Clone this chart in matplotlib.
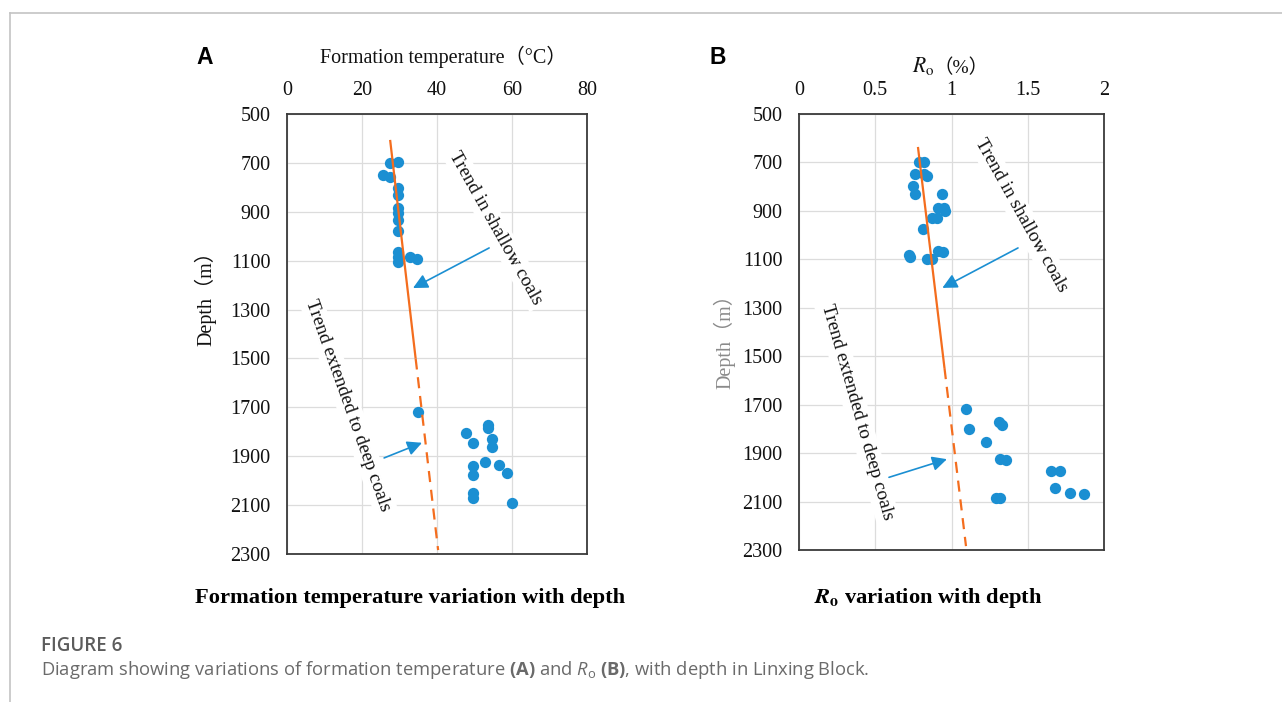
import matplotlib
matplotlib.use("Agg")
import matplotlib.pyplot as plt
from matplotlib.lines import Line2D

plt.rcParams['mathtext.fontset'] = 'custom'
plt.rcParams['mathtext.rm'] = 'Open Sans'
plt.rcParams['mathtext.it'] = 'Open Sans:italic'
plt.rcParams['mathtext.bf'] = 'Open Sans:bold'

W, H = 1282, 702

# ---------------- data ----------------
temp_c = [27.5, 29.6, 25.6, 27.5, 29.6, 29.6, 29.6, 29.6, 29.6, 29.6, 29.6, 29.6, 29.6,
          32.8, 34.7, 34.9, 47.7, 53.6, 53.6, 49.7, 54.7, 54.7, 52.8, 49.7, 49.7, 56.5,
          58.7, 49.7, 49.7, 60.0]
temp_depth = [700, 696, 750, 758, 803, 831, 885, 905, 934, 979, 1064, 1085, 1105,
              1085, 1093, 1719, 1805, 1772, 1785, 1846, 1830, 1862, 1923, 1940, 1977, 1936,
              1969, 2051, 2071, 2092]

ro_pct = [0.79, 0.82, 0.76, 0.82, 0.84, 0.75, 0.76, 0.94, 0.91, 0.95, 0.96, 0.87, 0.905,
          0.81, 0.72, 0.73, 0.84, 0.87, 0.91, 0.945, 1.095, 1.115, 1.31, 1.33, 1.226, 1.32,
          1.36, 1.65, 1.71, 1.68, 1.78, 1.87, 1.29, 1.32]
ro_depth = [698, 698, 746, 748, 758, 797, 830, 830, 888, 888, 900, 930, 930,
            975, 1082, 1090, 1099, 1099, 1066, 1070, 1718, 1800, 1772, 1784, 1854, 1924,
            1928, 1974, 1974, 2044, 2065, 2069, 2085, 2085]

# trend lines: (x, depth) for start, end of solid part, end of dashed part
temp_trend_x = [27.5, 34.3, 40.3]
temp_trend_d = [606, 1500, 2284]
ro_trend_x = [0.78, 0.954, 1.095]
ro_trend_d = [636, 1549, 2284]

depth_ticks = [500, 700, 900, 1100, 1300, 1500, 1700, 1900, 2100, 2300]
temp_ticks = [0, 20, 40, 60, 80]
ro_ticks = [0, 0.5, 1, 1.5, 2]
ro_ticklabels = ['0', '0.5', '1', '1.5', '2']

# ---------------- style ----------------
BLUE = '#1b8fd2'
ORANGE = '#f46d1e'
SERIF = ['Liberation Serif', 'Noto Sans CJK SC']
SPINE = '#3a3a3a'
GRID = '#dcdcdc'
TICKFS = 14.5

fig = plt.figure(figsize=(W / 100, H / 100), dpi=100)
fig.patch.set_facecolor('white')


def fx(x):
    return x / W


def fy(y):
    return 1 - y / H


def make_ax(left, right, top, bottom, xlim, xticks, xticklabels):
    ax = fig.add_axes([fx(left), fy(bottom), fx(right) - fx(left), fy(top) - fy(bottom)])
    ax.set_xlim(*xlim)
    ax.set_ylim(2300, 500)
    ax.set_yticks(depth_ticks)
    ax.set_yticklabels([str(t) for t in depth_ticks], fontsize=TICKFS, family='Liberation Serif')
    ax.set_xticks(xticks)
    ax.set_xticklabels(xticklabels, fontsize=TICKFS, family='Liberation Serif')
    ax.xaxis.tick_top()
    ax.tick_params(axis='both', length=0, colors='#111111')
    ax.tick_params(axis='x', pad=10)
    ax.tick_params(axis='y', pad=12)
    ax.grid(True, color=GRID, lw=0.9)
    ax.set_axisbelow(True)
    for s in ax.spines.values():
        s.set_color(SPINE)
        s.set_linewidth(1.3)
    return ax


axA = make_ax(287, 587, 114, 554, (0, 80), temp_ticks, [str(t) for t in temp_ticks])
axB = make_ax(799, 1104, 114, 550, (0, 2), ro_ticks, ro_ticklabels)


def draw_panel(ax, xs, ds, tx, td, shallow_txt, deep_txt, arr_sh, arr_dp):
    ax.scatter(xs, ds, s=66, color=BLUE, zorder=3, linewidths=0)
    ax.plot(tx[:2], td[:2], color=ORANGE, lw=1.6, zorder=4, solid_capstyle='butt')
    ax.plot(tx[1:], td[1:], color=ORANGE, lw=1.6, ls=(0, (5, 3.5)), zorder=4)
    for (x, y, rot), s in [(shallow_txt, 'Trend in shallow coals'),
                           (deep_txt, 'Trend extended to deep coals')]:
        ax.text(x, y, s, rotation=rot, rotation_mode='anchor', ha='center', va='center',
                fontsize=13.8, family='Liberation Serif', color='#111111', zorder=5,
                clip_on=False, bbox=dict(fc='white', ec='none', pad=2.5))
    for (x0, y0, x1, y1) in (arr_sh, arr_dp):
        ax.annotate('', xy=(x1, y1), xytext=(x0, y0), zorder=6,
                    arrowprops=dict(arrowstyle='-|>', color=BLUE, lw=1.2,
                                    mutation_scale=22, shrinkA=0, shrinkB=0))


draw_panel(axA, temp_c, temp_depth, temp_trend_x, temp_trend_d,
           (55.7, 966, -60.6), (16.3, 1691, -70.3),
           (53.9, 1048, 33.6, 1212), (25.9, 1907, 36.0, 1845))
draw_panel(axB, ro_pct, ro_depth, ro_trend_x, ro_trend_d,
           (1.456, 917, -60.8), (0.38, 1730, -73.9),
           (1.436, 1053, 0.94, 1218), (0.59, 2000, 0.97, 1925))

# ---------------- labels ----------------
fig.text(fx(205), fy(57), 'A', fontsize=16.5, fontweight='bold', family='Liberation Sans',
         ha='center', va='center')
fig.text(fx(718), fy(57), 'B', fontsize=16.5, fontweight='bold', family='Liberation Sans',
         ha='center', va='center')

fig.text(fx(443), fy(57), 'Formation temperature（°C）', fontsize=14.5, family=SERIF,
         ha='center', va='center', color='#111111')
fig.text(fx(934), fy(66), r'$R_\mathrm{o}$', fontsize=15.5, math_fontfamily='stix',
         ha='right', va='center', color='#111111')
fig.text(fx(933), fy(68), '（%）', fontsize=14, family=SERIF,
         ha='left', va='center', color='#111111')

fig.text(fx(205), fy(294), 'Depth（m）', fontsize=14.5, family=SERIF, rotation=90,
         ha='center', va='center', color='#111111')
fig.text(fx(724), fy(337), 'Depth（m）', fontsize=14.5, family=SERIF, rotation=90,
         ha='center', va='center', color='#8a8a8a')

fig.text(fx(410), fy(598), 'Formation temperature variation with depth', fontsize=16.2,
         fontweight='bold', family='Liberation Serif', ha='center', va='center')
fig.text(fx(928), fy(598), r'$\mathbfit{R}_\mathbf{o}$ variation with depth', fontsize=16.2,
         fontweight='bold', family='Liberation Serif', math_fontfamily='stix',
         ha='center', va='center')

# ---------------- caption & frame ----------------
fig.text(fx(41), fy(646), 'FIGURE 6', fontsize=13.5, fontweight='semibold',
         family='Open Sans', color='#5c5c5c', ha='left', va='center')
fig.text(fx(41), fy(670),
         r'Diagram showing variations of formation temperature $\mathbf{(A)}$ and '
         r'$R_\mathrm{o}$ $\mathbf{(B)}$, with depth in Linxing Block.',
         fontsize=13.2, family='Open Sans', color='#6a6a6a', ha='left', va='center')

fig.add_artist(Line2D([fx(10), 1], [fy(13), fy(13)], color='#c4c4c4', lw=1.2,
                      transform=fig.transFigure))
fig.add_artist(Line2D([fx(10), fx(10)], [fy(13), 0], color='#c4c4c4', lw=1.2,
                      transform=fig.transFigure))

fig.savefig('out.png', dpi=100, facecolor='white')
